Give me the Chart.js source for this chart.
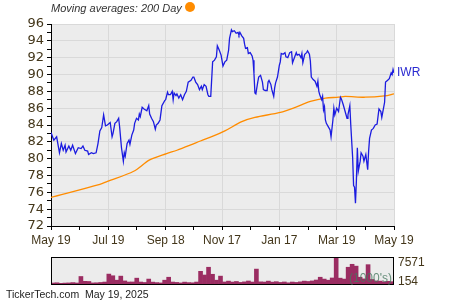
<!DOCTYPE html>
<html>
<head>
<meta charset="utf-8">
<script src="https://cdn.jsdelivr.net/npm/chart.js@4/dist/chart.umd.min.js"></script>
<style>
  body { margin: 0; background: #fff; }
  #wrap { position: relative; width: 450px; height: 300px; overflow: hidden; }
  #mainBox { position: absolute; left: 0; top: 0; width: 450px; height: 256px; }
  #volBox { position: absolute; left: 0; top: 250px; width: 450px; height: 50px; }
  #title { position: absolute; left: 51px; top: 1px; font: italic 11px "Liberation Sans", Arial, sans-serif; color: #333; line-height: 14px; }
  #dot { position: absolute; left: 185px; top: 2px; width: 10px; height: 10px; border-radius: 50%; background: #ff8c00; }
  #footer { position: absolute; left: 6px; top: 287px; font: 10.5px "Liberation Sans", Arial, sans-serif; color: #222; line-height: 14px; white-space: pre; }
</style>
</head>
<body>
<div id="wrap">
  <div id="mainBox"><canvas id="mainChart"></canvas></div>
  <div id="volBox"><canvas id="volChart"></canvas></div>
  <div id="title">Moving averages: 200 Day</div>
  <div id="dot"></div>
  <div id="footer">TickerTech.com  May 19, 2025</div>
</div>
<script>
// days since May 19 2024
const priceDays = [0, 3, 6, 9, 11, 13, 15, 16, 19, 21, 23, 26, 29, 32, 34, 36, 39, 40, 43, 45, 48, 50, 52, 54, 56, 58,
    60, 63, 65, 66, 68, 70, 72, 73, 75, 77, 78, 79, 81, 83, 84, 86, 88, 89, 91, 93, 94, 95, 97, 99, 102, 104, 105, 107,
    109, 111, 112, 114, 116, 118, 121, 122, 124, 125, 127, 129, 130, 131, 133, 134, 136, 138, 140, 142, 144, 146, 149,
    151, 152, 154, 156, 158, 160, 161, 163, 165, 167, 168, 170, 172, 174, 176, 177, 179, 181, 183, 185, 187, 189, 190,
    192, 193, 195, 197, 199, 200, 201, 203, 205, 206, 207, 209, 210, 212, 214, 215, 216, 217, 218, 220, 221, 223, 225,
    226, 228, 230, 231, 232, 234, 235, 237, 238, 239, 241, 243, 244, 245, 247, 249, 250, 252, 254, 256, 257, 259, 261,
    262, 264, 266, 267, 268, 270, 272, 273, 275, 276, 277, 279, 281, 283, 284, 285, 286, 288, 289, 290, 291, 292, 293,
    295, 297, 298, 300, 301, 302, 304, 306, 308, 309, 311, 313, 315, 316, 318, 319, 321, 322, 323, 324, 325, 326, 327,
    329, 330, 332, 333, 335, 337, 338, 339, 341, 343, 345, 347, 349, 351, 352, 354, 355, 356, 358, 360, 362, 363, 364, 365];
const priceValues = [83.1, 82.2, 82.6, 80.7, 81.8, 81.0, 81.6, 80.8, 81.5, 81.0, 81.6, 80.6, 81.3, 81.2, 81.5, 81.0, 80.9,
    80.5, 80.7, 80.6, 80.7, 81.8, 83.3, 83.7, 85.2, 83.9, 84.0, 84.3, 82.6, 83.0, 84.2, 84.4, 84.8, 83.8, 81.3, 79.7,
    80.7, 80.3, 81.8, 82.2, 81.7, 82.8, 83.4, 84.2, 84.8, 84.6, 85.3, 85.0, 86.1, 85.9, 85.7, 86.3, 85.3, 84.8, 84.4,
    83.5, 84.0, 84.2, 84.6, 86.3, 86.9, 87.0, 87.9, 87.6, 87.6, 88.0, 87.0, 87.8, 87.5, 87.7, 87.2, 87.6, 87.0, 87.6,
    88.0, 89.1, 89.3, 89.7, 89.7, 89.1, 88.8, 88.2, 88.6, 88.2, 88.8, 88.6, 87.6, 87.4, 87.4, 91.5, 91.7, 92.1, 93.4,
    92.9, 92.3, 91.0, 91.5, 91.7, 92.9, 94.3, 95.3, 95.1, 95.2, 94.9, 95.0, 94.7, 95.0, 94.6, 94.3, 93.6, 93.1, 93.2,
    92.5, 92.6, 92.2, 91.7, 90.1, 87.8, 87.7, 89.1, 89.7, 89.9, 89.1, 88.2, 88.1, 88.1, 89.1, 89.3, 88.8, 88.2, 87.4,
    88.4, 89.0, 89.7, 91.1, 91.5, 92.5, 92.4, 92.6, 92.1, 92.0, 92.6, 92.7, 91.4, 92.0, 92.6, 92.3, 92.4, 92.0, 92.5,
    91.4, 92.4, 92.6, 92.8, 92.4, 91.6, 89.7, 89.4, 89.2, 88.6, 89.2, 88.0, 87.6, 87.0, 87.4, 85.8, 86.2, 84.6, 84.2,
    83.8, 83.4, 82.6, 84.6, 86.0, 85.2, 86.0, 85.6, 87.3, 87.1, 86.4, 85.6, 84.8, 85.2, 86.3, 84.0, 80.1, 76.8, 76.6,
    74.7, 77.4, 81.3, 78.5, 79.7, 80.7, 80.3, 79.7, 80.5, 78.7, 80.9, 82.4, 83.4, 83.6, 84.0, 84.1, 85.9, 85.6, 84.9,
    86.1, 86.7, 89.1, 89.3, 89.5, 90.2, 90.0, 90.6, 90.2];

// 200 day moving average
const maDays = [0, 52, 60, 88, 105, 123, 134, 148, 159, 173, 185, 203, 217, 244, 260, 276, 292, 306, 313, 334, 355, 365];
const maValues = [75.4, 76.95, 77.3, 78.5, 79.85, 80.6, 81.0, 81.6, 82.1, 82.7, 83.3, 84.4, 84.9, 85.5, 86.1, 86.8,
    87.2, 87.3, 87.4, 87.3, 87.45, 87.7];

// volume in 1000's
const volumeValues = [535, 600, 450, 520, 560, 650, 540, 2300, 1000, 950, 560, 600, 680, 800, 2950, 2500, 1300, 2400,
    1100, 800, 820, 1850, 800, 680, 1600, 780, 650, 560, 1300, 2100, 800, 700, 560, 780, 650, 600, 800, 3700, 2700, 4800,
    2900, 1300, 2400, 820, 1050, 800, 950, 700, 850, 1080, 800, 4300, 850, 800, 1050, 780, 900, 700, 820, 600, 800, 700,
    850, 1050, 950, 1100, 1350, 2100, 1600, 1300, 1900, 7571, 1850, 1600, 4800, 5600, 5100, 2100, 1650, 5500, 1500,
    1100, 1050, 850, 1000, 900];

const xTickDays = [0, 61, 122, 182, 243, 304, 365];
const xTickLabels = ['May 19', 'Jul 19', 'Sep 18', 'Nov 17', 'Jan 17', 'Mar 19', 'May 19'];
const volMin = 154;
const volMax = 7571;
const seriesName = 'IWR';

const labelColor = '#43361a';
const gridColor = '#d9d9d9';

// major + minor ticks for the date axis
const allXTicks = [];
xTickDays.forEach((d, i) => {
    allXTicks.push(d);
    if (i < xTickDays.length - 1) allXTicks.push((d + xTickDays[i + 1]) / 2);
});

const plotBackground = {
    id: 'plotBackground',
    beforeDraw(chart) {
        const { ctx, chartArea: a } = chart;
        ctx.save();
        ctx.fillStyle = '#ececec';
        ctx.fillRect(a.left, a.top, a.right - a.left, a.bottom - a.top);
        ctx.restore();
    }
};

const seriesLabel = {
    id: 'seriesLabel',
    afterDraw(chart) {
        const { ctx, chartArea: a } = chart;
        const y = chart.scales.y.getPixelForValue(priceValues[priceValues.length - 1]);
        ctx.save();
        ctx.font = '12px "Liberation Sans", Arial, sans-serif';
        ctx.fillStyle = '#2a2ad0';
        ctx.textBaseline = 'middle';
        ctx.fillText(seriesName, a.right + 3, y);
        ctx.restore();
    }
};

new Chart(document.getElementById('mainChart'), {
    type: 'line',
    data: {
        datasets: [{
            label: seriesName,
            data: priceDays.map((d, i) => ({ x: d, y: priceValues[i] })),
            borderColor: '#1c1ce0',
            borderWidth: 1.3,
            pointRadius: 0,
            tension: 0
        }, {
            label: '200 Day',
            data: maDays.map((d, i) => ({ x: d, y: maValues[i] })),
            borderColor: '#ff8c00',
            borderWidth: 1.3,
            pointRadius: 0,
            tension: 0.3
        }]
    },
    options: {
        responsive: true,
        maintainAspectRatio: false,
        animation: false,
        layout: { padding: { left: 0, top: 24, right: 56, bottom: 0 } },
        scales: {
            x: {
                type: 'linear',
                min: 0,
                max: 365,
                afterBuildTicks: (scale) => { scale.ticks = allXTicks.map(v => ({ value: v })); },
                afterFit: (scale) => { scale.height = 30; },
                ticks: {
                    autoSkip: false,
                    maxRotation: 0,
                    padding: 3,
                    color: labelColor,
                    font: { family: '"Liberation Sans", Arial, sans-serif', size: 12 },
                    callback: (value) => {
                        const i = xTickDays.indexOf(value);
                        return i >= 0 ? xTickLabels[i] : '';
                    }
                },
                grid: {
                    color: (c) => (c.tick && xTickDays.includes(c.tick.value)) ? gridColor : 'rgba(0,0,0,0)',
                    tickColor: '#000',
                    tickLength: 4
                },
                border: { color: '#000', width: 1 }
            },
            y: {
                min: 72,
                max: 96,
                afterFit: (scale) => { scale.width = 51; },
                ticks: {
                    stepSize: 1,
                    autoSkip: false,
                    padding: 3,
                    color: labelColor,
                    font: { family: '"DejaVu Sans", sans-serif', size: 13 },
                    callback: (v) => (v % 2 === 0 ? v : '')
                },
                grid: {
                    color: (c) => (c.tick && c.tick.value % 2 === 0 && c.tick.value !== 72) ? gridColor : 'rgba(0,0,0,0)',
                    tickColor: '#000',
                    tickLength: 4
                },
                border: { color: '#000', width: 1 }
            }
        },
        plugins: {
            legend: { display: false },
            tooltip: { enabled: false }
        }
    },
    plugins: [plotBackground, seriesLabel]
});

const volumeFrame = {
    id: 'volumeFrame',
    afterDraw(chart) {
        const { ctx, chartArea: a } = chart;
        const ys = chart.scales.y;
        ctx.save();
        ctx.strokeStyle = '#000';
        ctx.lineWidth = 1;
        ctx.strokeRect(a.left + 0.5, a.top + 0.5, a.right - a.left - 1, a.bottom - a.top - 1);
        ctx.font = '12px "Liberation Sans", Arial, sans-serif';
        ctx.textBaseline = 'middle';
        ctx.fillStyle = labelColor;
        ctx.fillText(String(volMax), a.right + 4, ys.getPixelForValue(volMax) + 6);
        ctx.fillText(String(volMin), a.right + 4, ys.getPixelForValue(volMin) - 3);
        ctx.fillStyle = 'rgba(70, 120, 95, 0.8)';
        ctx.textAlign = 'right';
        ctx.fillText("(1000's)", a.right - 2, a.bottom - 6);
        ctx.restore();
    }
};

new Chart(document.getElementById('volChart'), {
    type: 'bar',
    data: {
        labels: volumeValues.map((v, i) => i),
        datasets: [{
            data: volumeValues,
            backgroundColor: '#9b2d62',
            barPercentage: 1,
            categoryPercentage: 1
        }]
    },
    options: {
        responsive: true,
        maintainAspectRatio: false,
        animation: false,
        layout: { padding: { left: 51, top: 7, right: 56, bottom: 15 } },
        scales: {
            x: { display: false },
            y: { display: false, min: 0, max: volMax }
        },
        plugins: {
            legend: { display: false },
            tooltip: { enabled: false }
        }
    },
    plugins: [plotBackground, volumeFrame]
});
</script>
</body>
</html>
